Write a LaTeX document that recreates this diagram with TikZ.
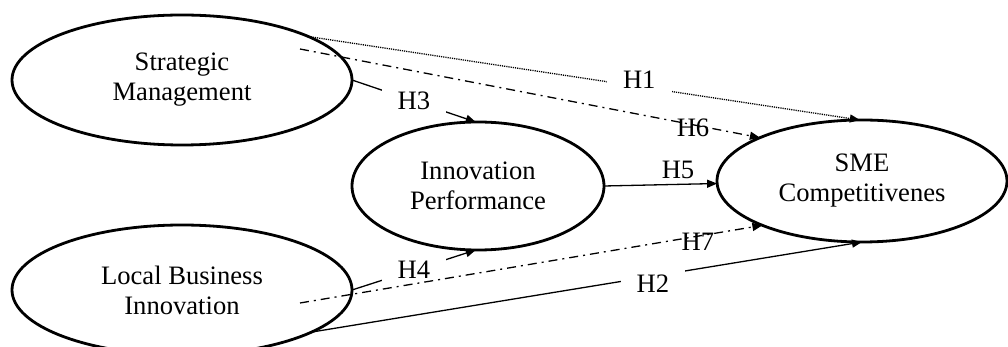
\documentclass[tikz,border=0pt]{standalone}
\usepackage{fontspec}
\setmainfont{Liberation Serif}
\usetikzlibrary{shapes.geometric,arrows.meta}
\begin{document}
\begin{tikzpicture}[x=0.5pt,y=-0.5pt,
  construct/.style={ellipse,draw,line width=1.4pt,outer sep=0pt,inner sep=0pt,align=center,font=\fontsize{13.3}{15}\selectfont},
  conn/.style={line width=0.65pt,-{Triangle[length=5pt,width=4pt]}},
  dotline/.style={conn,dash pattern=on 0.6pt off 0.5pt},
  dashdot/.style={conn,dash pattern=on 4.5pt off 2.5pt on 1pt off 2.5pt},
  hlab/.style={font=\fontsize{13.3}{15}\selectfont,inner sep=1pt},
  hlabw/.style={hlab,fill=white,inner xsep=8pt,inner ysep=3pt}]
\useasboundingbox (0,0) rectangle (1008,347);
\node[construct,minimum width=170pt,minimum height=65pt] (sm) at (182,80) {Strategic\\Management};
\node[construct,minimum width=170pt,minimum height=65pt] (lbi) at (182,290) {Local Business\\Innovation};
\node[construct,minimum width=126pt,minimum height=64pt] (ip) at (478,186) {Innovation\\Performance};
\node[construct,minimum width=145pt,minimum height=61pt] (sme) at (862,181) {SME\\Competitivenes};
\coordinate (h6s) at (300,49);
\coordinate (h7s) at (300,303);
% H1
\draw[dotline] (sm.19.8) -- node[hlabw,pos=0.6,yshift=3.5pt] (l1) {H1} (sme.92);
% H6
\draw[dashdot] (h6s) -- (sme.157);
\node[hlab] (l6) at (693,128) {H6};
% H3
\draw[conn] (sm.0) -- node[hlabw,pos=0.5] (l3) {H3} (ip.92);
% H5
\draw[conn] (ip.0) -- (sme.181);
\node[hlab] (l5) at (678,170) {H5};
% H4
\draw[conn] (lbi.0) -- node[hlabw,pos=0.5] (l4) {H4} (ip.268);
% H7
\draw[dashdot] (h7s) -- (sme.204);
\node[hlab] (l7) at (698,242) {H7};
% H2
\draw[conn] (lbi.342) -- node[hlabw,pos=0.62,yshift=-3.5pt] (l2) {H2} (sme.270);
\end{tikzpicture}
\end{document}
